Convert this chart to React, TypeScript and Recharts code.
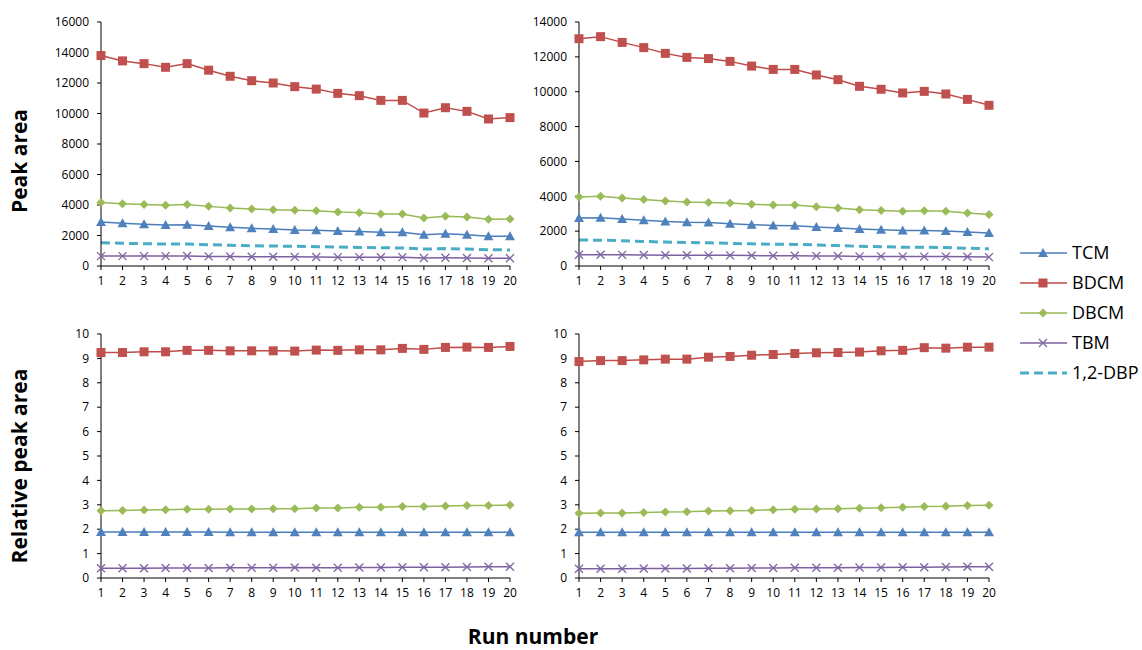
import React from "react";
import { LineChart, Line, XAxis, YAxis } from "recharts";

// run numbers on the x axis
const runs = [1, 2, 3, 4, 5, 6, 7, 8, 9, 10, 11, 12, 13, 14, 15, 16, 17, 18, 19, 20];

// top left: peak area
const tlTCM = [2880, 2800, 2730, 2690, 2710, 2620, 2540, 2470, 2430, 2360, 2340, 2300, 2270, 2210, 2210, 2050, 2120, 2050, 1950, 1950];
const tlBDCM = [13800, 13450, 13270, 13030, 13270, 12840, 12440, 12150, 12000, 11760, 11600, 11320, 11170, 10860, 10860, 10030, 10380, 10140, 9640, 9730];
const tlDBCM = [4170, 4090, 4040, 3980, 4040, 3910, 3800, 3740, 3690, 3650, 3630, 3540, 3500, 3410, 3410, 3150, 3260, 3210, 3060, 3080];
const tlTBM = [650, 650, 650, 650, 660, 630, 620, 610, 610, 600, 590, 580, 580, 570, 580, 520, 540, 530, 510, 510];
const tlDBP = [1530, 1490, 1460, 1440, 1440, 1400, 1360, 1330, 1310, 1290, 1270, 1250, 1220, 1200, 1180, 1110, 1140, 1110, 1070, 1050];

// top right: peak area
const trTCM = [2750, 2770, 2700, 2620, 2560, 2510, 2490, 2430, 2370, 2330, 2310, 2240, 2180, 2120, 2080, 2030, 2030, 2010, 1950, 1890];
const trBDCM = [13040, 13160, 12830, 12530, 12200, 11970, 11900, 11740, 11470, 11280, 11280, 10960, 10690, 10310, 10140, 9930, 10020, 9870, 9560, 9220];
const trDBCM = [3960, 4000, 3900, 3820, 3730, 3670, 3650, 3610, 3540, 3500, 3500, 3400, 3330, 3230, 3190, 3140, 3170, 3140, 3040, 2950];
const trTBM = [650, 650, 640, 630, 620, 620, 610, 610, 600, 590, 590, 580, 570, 550, 550, 540, 540, 540, 530, 510];
const trDBP = [1490, 1480, 1450, 1410, 1370, 1350, 1330, 1300, 1270, 1250, 1240, 1210, 1170, 1130, 1110, 1080, 1080, 1060, 1020, 990];

// bottom left: relative peak area
const blTCM = [1.89, 1.89, 1.89, 1.89, 1.89, 1.89, 1.88, 1.88, 1.88, 1.87, 1.88, 1.87, 1.88, 1.87, 1.88, 1.88, 1.88, 1.88, 1.88, 1.88];
const blBDCM = [9.24, 9.24, 9.27, 9.27, 9.33, 9.33, 9.31, 9.31, 9.31, 9.3, 9.34, 9.33, 9.35, 9.35, 9.41, 9.37, 9.45, 9.46, 9.45, 9.49];
const blDBCM = [2.76, 2.77, 2.79, 2.8, 2.82, 2.82, 2.83, 2.83, 2.84, 2.84, 2.87, 2.87, 2.9, 2.9, 2.93, 2.93, 2.95, 2.97, 2.97, 2.99];
const blTBM = [0.4, 0.4, 0.4, 0.41, 0.41, 0.41, 0.42, 0.42, 0.42, 0.43, 0.42, 0.42, 0.43, 0.43, 0.44, 0.44, 0.44, 0.45, 0.46, 0.46];

// bottom right: relative peak area
const brTCM = [1.88, 1.88, 1.88, 1.88, 1.88, 1.88, 1.88, 1.88, 1.88, 1.87, 1.88, 1.87, 1.88, 1.87, 1.88, 1.88, 1.88, 1.88, 1.88, 1.88];
const brBDCM = [8.87, 8.91, 8.91, 8.94, 8.97, 8.97, 9.05, 9.08, 9.13, 9.16, 9.2, 9.23, 9.24, 9.26, 9.31, 9.33, 9.44, 9.42, 9.46, 9.46];
const brDBCM = [2.65, 2.66, 2.66, 2.68, 2.71, 2.72, 2.75, 2.76, 2.77, 2.8, 2.82, 2.83, 2.84, 2.86, 2.88, 2.9, 2.93, 2.94, 2.97, 2.98];
const brTBM = [0.38, 0.38, 0.38, 0.39, 0.39, 0.39, 0.4, 0.4, 0.41, 0.41, 0.42, 0.42, 0.42, 0.43, 0.43, 0.44, 0.44, 0.45, 0.46, 0.46];

const peakTicks16 = [0, 2000, 4000, 6000, 8000, 10000, 12000, 14000, 16000];
const peakTicks14 = [0, 2000, 4000, 6000, 8000, 10000, 12000, 14000];
const relTicks = [0, 1, 2, 3, 4, 5, 6, 7, 8, 9, 10];

const FONT = "'Open Sans', sans-serif";

const C = {
  tcm: { line: "#4A7EBB", mark: "#4F81BD" },
  bdcm: { line: "#BE4B48", mark: "#C0504D" },
  dbcm: { line: "#98B954", mark: "#9BBB59" },
  tbm: { line: "#7D60A0", mark: "#8064A2" },
  dbp: { line: "#4BACC6", mark: "#4BACC6" },
};

function shape(kind: string, cx: number, cy: number, color: string, key?: string) {
  if (kind === "triangle")
    return <path key={key} d={`M${cx},${cy - 5} L${cx + 5},${cy + 4} L${cx - 5},${cy + 4} Z`} fill={color} />;
  if (kind === "square")
    return <rect key={key} x={cx - 4.5} y={cy - 4.5} width={9} height={9} fill={color} />;
  if (kind === "diamond")
    return <path key={key} d={`M${cx},${cy - 4.5} L${cx + 4.5},${cy} L${cx},${cy + 4.5} L${cx - 4.5},${cy} Z`} fill={color} />;
  if (kind === "x")
    return (
      <path key={key} d={`M${cx - 4},${cy - 4} L${cx + 4},${cy + 4} M${cx - 4},${cy + 4} L${cx + 4},${cy - 4}`} stroke={color} strokeWidth={1.3} fill="none" />
    );
  return null;
}

const dotOf = (kind: string, color: string, name: string) => (props: any) => {
  const { cx, cy, index } = props;
  if (cx == null || cy == null) return <g key={`${name}-${index}`} />;
  return shape(kind, cx, cy, color, `${name}-${index}`);
};

function buildRows(tcm: number[], bdcm: number[], dbcm: number[], tbm: number[], dbp?: number[]) {
  return runs.map((run, i) => ({
    run,
    tcm: tcm[i],
    bdcm: bdcm[i],
    dbcm: dbcm[i],
    tbm: tbm[i],
    dbp: dbp ? dbp[i] : undefined,
  }));
}

interface PanelProps {
  left: number;
  top: number;
  yWidth: number;
  data: any[];
  ticks: number[];
  max: number;
  withDbp: boolean;
}

function Panel({ left, top, yWidth, data, ticks, max, withDbp }: PanelProps) {
  const tickStyle = { fill: "#000", fontSize: 12, fontFamily: FONT };
  return (
    <div style={{ position: "absolute", left, top }}>
      <LineChart width={480} height={290} data={data} margin={{ top: 12, right: 10, bottom: 4, left: 0 }}>
        <XAxis
          dataKey="run"
          type="number"
          domain={[1, 20]}
          ticks={runs}
          interval={0}
          height={30}
          tickSize={4}
          tickMargin={6}
          axisLine={{ stroke: "#000" }}
          tickLine={{ stroke: "#000" }}
          tick={tickStyle}
        />
        <YAxis
          type="number"
          domain={[0, max]}
          ticks={ticks}
          interval={0}
          width={yWidth}
          tickSize={4}
          tickMargin={8}
          axisLine={{ stroke: "#000" }}
          tickLine={{ stroke: "#000" }}
          tick={tickStyle}
        />
        {withDbp && (
          <Line
            dataKey="dbp"
            stroke={C.dbp.line}
            strokeWidth={3}
            strokeDasharray="9 5"
            dot={false}
            isAnimationActive={false}
          />
        )}
        <Line dataKey="tbm" stroke={C.tbm.line} strokeWidth={1.5} dot={dotOf("x", C.tbm.mark, "tbm")} activeDot={false} isAnimationActive={false} />
        <Line dataKey="tcm" stroke={C.tcm.line} strokeWidth={1.5} dot={dotOf("triangle", C.tcm.mark, "tcm")} activeDot={false} isAnimationActive={false} />
        <Line dataKey="dbcm" stroke={C.dbcm.line} strokeWidth={1.5} dot={dotOf("diamond", C.dbcm.mark, "dbcm")} activeDot={false} isAnimationActive={false} />
        <Line dataKey="bdcm" stroke={C.bdcm.line} strokeWidth={1.5} dot={dotOf("square", C.bdcm.mark, "bdcm")} activeDot={false} isAnimationActive={false} />
      </LineChart>
    </div>
  );
}

const legendItems = [
  { name: "TCM", kind: "triangle", c: C.tcm },
  { name: "BDCM", kind: "square", c: C.bdcm },
  { name: "DBCM", kind: "diamond", c: C.dbcm },
  { name: "TBM", kind: "x", c: C.tbm },
  { name: "1,2-DBP", kind: "dash", c: C.dbp },
];

function Legend() {
  return (
    <svg style={{ position: "absolute", left: 1015, top: 234 }} width={127} height={160}>
      {legendItems.map((it, i) => {
        const y = 19 + i * 30;
        return (
          <g key={it.name}>
            {it.kind === "dash" ? (
              <line x1={5} x2={52} y1={y} y2={y} stroke={it.c.line} strokeWidth={3} strokeDasharray="9 5" />
            ) : (
              <>
                <line x1={5} x2={52} y1={y} y2={y} stroke={it.c.line} strokeWidth={1.5} />
                {shape(it.kind, 28, y, it.c.mark)}
              </>
            )}
            <text x={57} y={y} dy="0.35em" fontSize={18} fontFamily={FONT} fill="#000">
              {it.name}
            </text>
          </g>
        );
      })}
    </svg>
  );
}

export default function App() {
  return (
    <div style={{ position: "absolute", left: 0, top: 0, width: 1142, height: 650, background: "#fff", overflow: "hidden" }}>
      <Panel left={40} top={10} yWidth={61} data={buildRows(tlTCM, tlBDCM, tlDBCM, tlTBM, tlDBP)} ticks={peakTicks16} max={16000} withDbp />
      <Panel left={519} top={10} yWidth={60} data={buildRows(trTCM, trBDCM, trDBCM, trTBM, trDBP)} ticks={peakTicks14} max={14000} withDbp />
      <Panel left={40} top={322} yWidth={61} data={buildRows(blTCM, blBDCM, blDBCM, blTBM)} ticks={relTicks} max={10} withDbp={false} />
      <Panel left={519} top={322} yWidth={60} data={buildRows(brTCM, brBDCM, brDBCM, brTBM)} ticks={relTicks} max={10} withDbp={false} />
      <Legend />
      <svg style={{ position: "absolute", left: 0, top: 0 }} width={1142} height={650}>
        <text transform="translate(27,161) rotate(-90)" textAnchor="middle" fontSize={21} fontWeight="bold" fontFamily={FONT} fill="#000">
          Peak area
        </text>
        <text transform="translate(27,466) rotate(-90)" textAnchor="middle" fontSize={21} fontWeight="bold" fontFamily={FONT} fill="#000">
          Relative peak area
        </text>
        <text x={533} y={644} textAnchor="middle" fontSize={21} fontWeight="bold" fontFamily={FONT} fill="#000">
          Run number
        </text>
      </svg>
    </div>
  );
}
